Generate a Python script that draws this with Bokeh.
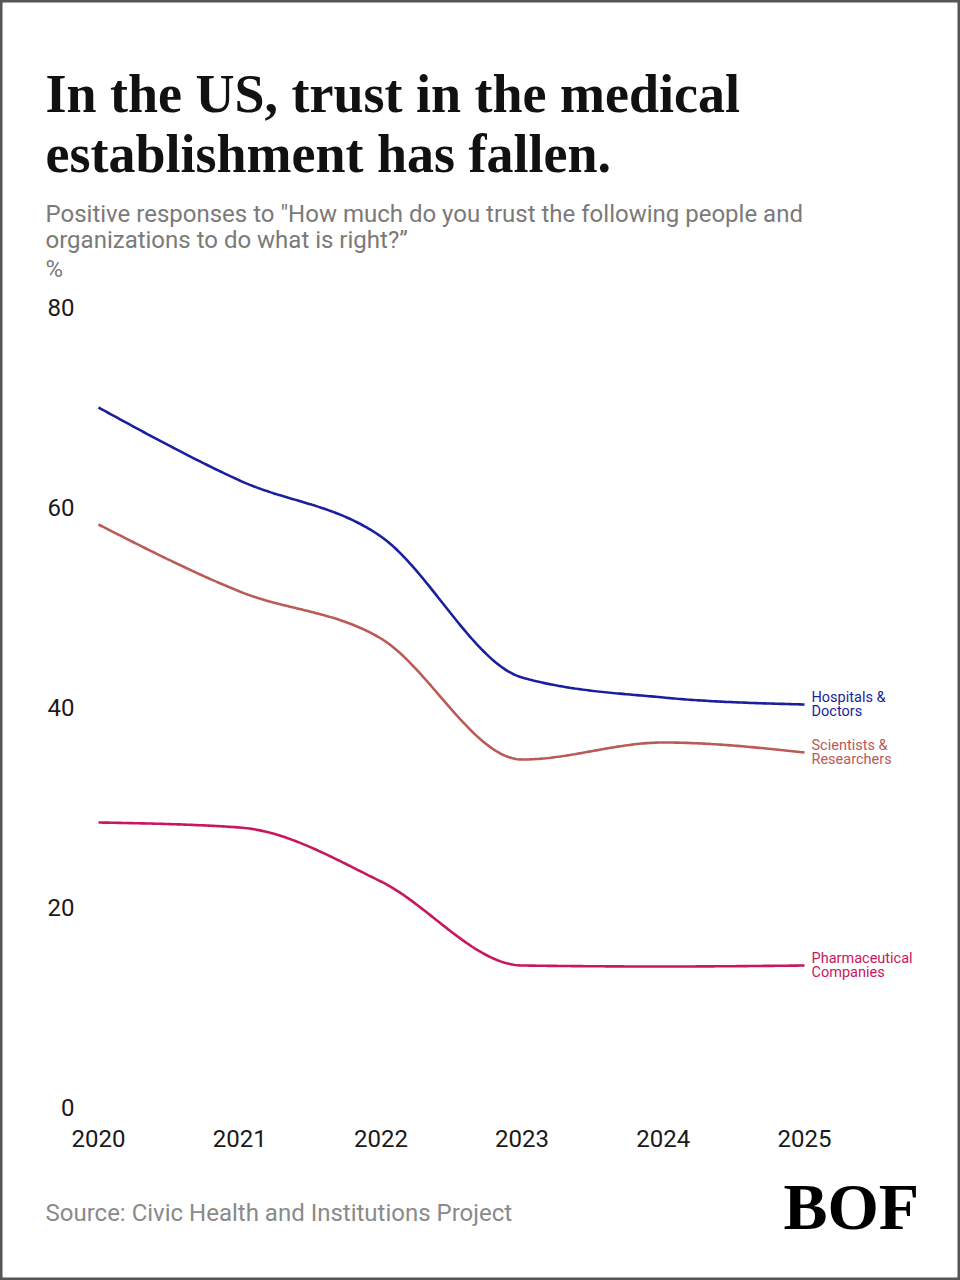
import numpy as np
from bokeh.plotting import figure
from bokeh.models import Range1d, LinearAxis, FixedTicker
from bokeh.core.properties import value
from bokeh.embed import file_html
from bokeh.resources import INLINE

# ---- data -------------------------------------------------------------
years = [2020, 2021, 2022, 2023, 2024, 2025]
hospitals_doctors = [70.0, 62.7, 57.1, 43.0, 41.0, 40.3]
scientists_researchers = [58.3, 51.6, 46.9, 34.8, 36.5, 35.5]
pharma_companies = [28.5, 28.0, 22.6, 14.2, 14.1, 14.2]

series_names = ["Hospitals &\nDoctors", "Scientists &\nResearchers", "Pharmaceutical\nCompanies"]
series_colors = ["#1a1f9e", "#b95b57", "#c8175e"]
y_ticks = [0, 20, 40, 60, 80]

title_lines = ["In the US, trust in the medical", "establishment has fallen."]
subtitle_lines = ['Positive responses to "How much do you trust the following people and',
                  "organizations to do what is right?\u201d"]
unit_label = "%"
source_text = "Source: Civic Health and Institutions Project"
logo_text = "BOF"

# ---- page geometry (pixels) -------------------------------------------
W, H = 960, 1280
X0_PX, PX_PER_YEAR = 98.0, 141.2     # where the first year sits, spacing per year
Y0_PX, PX_PER_PCT = 1107.0, 10.0     # where 0 % sits, pixels per point
BASELINE_SHIFT = 0.36                # em offset of the rendered alphabetic baseline


def dx(px):
    return years[0] + (px - X0_PX) / PX_PER_YEAR


def dy(py):
    return (Y0_PX - py) / PX_PER_PCT


def base(py, size):
    """Data y that puts a text baseline at page row py for a font of `size` px."""
    return dy(py - BASELINE_SHIFT * size)


def monotone_x(xs, ys, n=60):
    """Monotone cubic curve through the points (same rule as d3.curveMonotoneX)."""
    xs = np.asarray(xs, float)
    ys = np.asarray(ys, float)
    m = len(xs)
    t = np.zeros(m)
    for i in range(1, m - 1):
        h0, h1 = xs[i] - xs[i - 1], xs[i + 1] - xs[i]
        s0, s1 = (ys[i] - ys[i - 1]) / h0, (ys[i + 1] - ys[i]) / h1
        p = (s0 * h1 + s1 * h0) / (h0 + h1)
        t[i] = (np.sign(s0) + np.sign(s1)) * min(abs(s0), abs(s1), 0.5 * abs(p))
    t[0] = (3 * (ys[1] - ys[0]) / (xs[1] - xs[0]) - t[1]) / 2
    t[-1] = (3 * (ys[-1] - ys[-2]) / (xs[-1] - xs[-2]) - t[-2]) / 2
    out_x, out_y = [], []
    u = np.linspace(0, 1, n)
    for i in range(m - 1):
        x0, x1, y0, y1 = xs[i], xs[i + 1], ys[i], ys[i + 1]
        h = x1 - x0
        p0, p1 = (x0, y0), (x0 + h / 3, y0 + h * t[i] / 3)
        p2, p3 = (x1 - h / 3, y1 - h * t[i + 1] / 3), (x1, y1)
        b0, b1, b2, b3 = (1 - u) ** 3, 3 * u * (1 - u) ** 2, 3 * u ** 2 * (1 - u), u ** 3
        bx = b0 * p0[0] + b1 * p1[0] + b2 * p2[0] + b3 * p3[0]
        by = b0 * p0[1] + b1 * p1[1] + b2 * p2[1] + b3 * p3[1]
        if i > 0:
            bx, by = bx[1:], by[1:]
        out_x.extend(bx)
        out_y.extend(by)
    return out_x, out_y


p = figure(width=W, height=H, output_backend="svg", toolbar_location=None,
           x_range=Range1d(dx(0), dx(W)), y_range=Range1d(dy(H), dy(0)),
           x_axis_location=None, y_axis_location=None,
           min_border=0, min_border_left=0, min_border_right=0,
           min_border_top=0, min_border_bottom=0)
p.grid.visible = False
p.background_fill_color = "white"
p.border_fill_color = "white"
p.outline_line_color = "#555555"
p.outline_line_width = 4

SANS = "Roboto"
SERIF = "Liberation Serif"

# ---- axes ---------------------------------------------------------------
yax = LinearAxis(fixed_location=dx(80), ticker=FixedTicker(ticks=y_ticks))
yax.axis_line_color = None
yax.major_tick_line_color = None
yax.minor_tick_line_color = None
yax.major_tick_out = 0
yax.major_label_standoff = 6
yax.major_label_text_font = SANS
yax.major_label_text_font_size = "24px"
yax.major_label_text_color = "#1a1a1a"
p.add_layout(yax, "left")

xax = LinearAxis(fixed_location=0, ticker=FixedTicker(ticks=years))
xax.axis_line_color = None
xax.major_tick_line_color = None
xax.minor_tick_line_color = None
xax.major_tick_out = 0
xax.major_label_standoff = 22
xax.major_label_text_font = SANS
xax.major_label_text_font_size = "24px"
xax.major_label_text_color = "#1a1a1a"
p.add_layout(xax, "below")

# ---- lines and end labels ---------------------------------------------
all_series = [hospitals_doctors, scientists_researchers, pharma_companies]
for vals, name, color in zip(all_series, series_names, series_colors):
    cx, cy = monotone_x(years, vals)
    p.line(cx, cy, line_color=color, line_width=2.6)
    p.text(x=[years[-1] + 7 / PX_PER_YEAR], y=[vals[-1]], text=[name],
           text_font=value(SANS), text_font_size="14.5px", text_color=color,
           text_baseline="middle", text_align="left", text_line_height=0.83)

# ---- headings, source, logo -------------------------------------------
p.text(x=[dx(45)] * 2, y=[base(113, 54), base(173, 54)], text=title_lines,
       text_font=value(SERIF), text_font_style="bold", text_font_size="54px",
       text_color="#111111", text_baseline="alphabetic", text_align="left")
p.text(x=[dx(45)] * 2, y=[base(222, 24), base(248, 24)], text=subtitle_lines,
       text_font=value(SANS), text_font_size="24px",
       text_color="#7a7a7a", text_baseline="alphabetic", text_align="left")
p.text(x=[dx(45)], y=[base(277, 24)], text=[unit_label],
       text_font=value(SANS), text_font_size="24px",
       text_color="#7a7a7a", text_baseline="alphabetic", text_align="left")
p.text(x=[dx(45)], y=[base(1221, 24)], text=[source_text],
       text_font=value(SANS), text_font_size="24px",
       text_color="#8a8a8a", text_baseline="alphabetic", text_align="left")
p.text(x=[dx(783)], y=[base(1230, 66)], text=[logo_text],
       text_font=value(SERIF), text_font_style="bold", text_font_size="66px",
       text_color="#000000", text_baseline="alphabetic", text_align="left")

open("out.html", "w").write(file_html(p, INLINE))
